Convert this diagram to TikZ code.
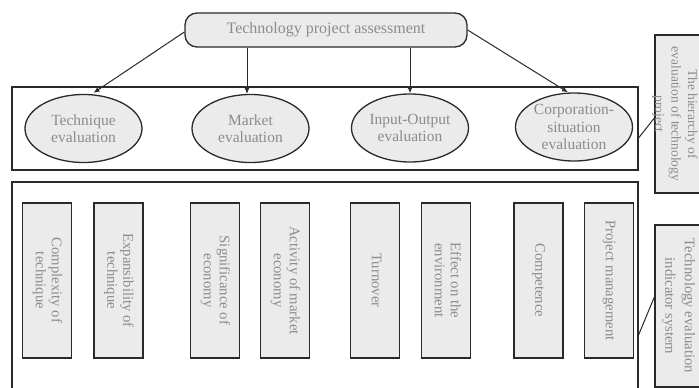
\documentclass[tikz,border=0pt]{standalone}
\usepackage{fontspec}
\setmainfont{Liberation Serif}
\usetikzlibrary{shapes.geometric,arrows.meta,backgrounds}
\definecolor{shapefill}{HTML}{EBEBEB}
\definecolor{txt}{HTML}{8C8C8C}
\definecolor{edge}{HTML}{2A2A2A}
\begin{document}
\begin{tikzpicture}[x=1pt,y=-1pt,
  every node/.style={text=txt},
  topbox/.style={draw=edge,line width=1.3pt,fill=shapefill,rounded corners=12pt,
    minimum width=282pt,minimum height=34pt,inner sep=0pt,
    font=\fontsize{16}{18}\selectfont},
  evalell/.style={ellipse,draw=edge,line width=1.3pt,fill=shapefill,
    minimum width=117pt,minimum height=68pt,inner sep=0pt,align=center,
    font=\fontsize{15.5}{17.5}\selectfont},
  indbox/.style={draw=edge,line width=1.3pt,fill=shapefill,
    minimum width=49pt,minimum height=155pt,inner sep=0pt,
    font=\fontsize{14.7}{16}\selectfont},
  labbox/.style={draw=edge,line width=1.3pt,fill=shapefill,inner sep=0pt},
  labtext/.style={inner sep=0pt},
  frame/.style={draw=edge,line width=1.1pt,inner sep=0pt},
  arr/.style={draw=edge,line width=1pt,-{Latex[length=6pt,width=5pt]}},
  solidlink/.style={draw=edge,line width=1.2pt},
  dashlink/.style={draw=edge,line width=1.6pt,dash pattern=on 8pt off 2.5pt},
  sidelink/.style={draw=edge,line width=1pt}
]
\useasboundingbox (0,0) rectangle (699,388);
\fill[white] (0,0) rectangle (699,388);

% frames
\node[frame,minimum width=626pt,minimum height=83pt] (upper) at (325,128.5) {};
\node[frame,minimum width=626pt,minimum height=230pt] (lower) at (325,297) {};

% top node
\node[topbox] (top) at (326,30) {Technology project assessment};

% ellipses
\node[evalell] (tech) at (83.5,128.5) {Technique\\evaluation};
\node[evalell] (mkt)  at (250.5,128.5) {Market\\evaluation};
\node[evalell] (io)   at (410,128) {Input-Output\\evaluation};
\node[evalell] (corp) at (574,127) {Corporation-\\situation\\evaluation};

% indicator boxes
\newcommand{\rottext}[1]{\rotatebox{-90}{\begin{tabular}{@{}c@{}}#1\end{tabular}}}
\node[indbox] (b1) at (47,280.5)   {\rottext{Complexity of\\technique}};
\node[indbox] (b2) at (118.5,280.5){\rottext{Expansibility of\\technique}};
\node[indbox] (b3) at (215,280.5)  {\rottext{Significance of\\economy}};
\node[indbox] (b4) at (285,280.5)  {\rottext{Activity of market\\economy}};
\node[indbox] (b5) at (375,280.5)  {\rottext{Turnover}};
\node[indbox] (b6) at (446,280.5)  {\rottext{Effect on the\\environment}};
\node[indbox] (b7) at (538.5,280.5){\rottext{Competence}};
\node[indbox] (b8) at (609,280.5)  {\rottext{Project management}};

% side labels
\node[labbox,minimum width=54pt,minimum height=158pt] (lab1) at (682,114) {};
\node[labtext,font=\fontsize{13.5}{16.5}\selectfont] (lab1t) at (675,114)
  {\rottext{The hierarchy of\\evaluation of technology\\project}};
\node[labbox,minimum width=52pt,minimum height=162pt] (lab2) at (681,306) {};
\node[labtext,font=\fontsize{14.7}{19.5}\selectfont] (lab2t) at (679,306)
  {\rottext{Technology evaluation\\indicator system}};

% links from ellipses to boxes (behind the ellipses)
\begin{scope}[on background layer]
  \path[solidlink] (b1.north) -- (b1.north |- tech.center);
  \path[dashlink]  (b2.north) -- (b2.north |- tech.center);
  \path[solidlink] (b3.north) -- (b3.north |- mkt.center);
  \path[dashlink]  (b4.north) -- (b4.north |- mkt.center);
  \path[solidlink] (b5.north) -- (b5.north |- io.center);
  \path[dashlink]  (b6.north) -- (b6.north |- io.center);
  \path[solidlink] (b7.north) -- (b7.north |- corp.center);
  \path[dashlink]  (b8.north) -- (b8.north |- corp.center);
\end{scope}

% arrows from top node
\path[arr] ([yshift=-2pt]top.west) -- ([xshift=10pt,yshift=1pt]tech.north);
\path[arr] ([xshift=-79pt]top.south) -- ([xshift=-79pt]top.south |- mkt.north);
\path[arr] ([xshift=84pt]top.south) -- ([xshift=84pt]top.south |- io.north);
\path[arr] (top.east) -- ([xshift=-6pt]corp.north);

% side connectors
\path[sidelink] ([yshift=-9.5pt]upper.east) -- ([yshift=-4pt]lab1.west);
\path[sidelink] ([yshift=-38pt]lower.east) -- ([yshift=9pt]lab2.west);
\end{tikzpicture}
\end{document}
